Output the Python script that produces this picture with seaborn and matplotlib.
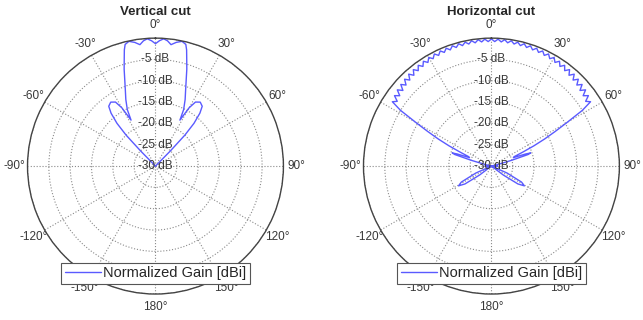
import matplotlib
import numpy as np
import pandas as pd
import seaborn as sns

matplotlib.use("Agg")
import matplotlib.pyplot as plt


# angle ticks (deg, clockwise from top) and labels shown round the rim
ANGLE_TICKS = [0, 30, 60, 90, 120, 150, 180, 210, 240, 270, 300, 330]
ANGLE_LABELS = ["0°", "30°", "60°", "90°", "120°", "150°", "180°",
                "-150°", "-120°", "-90°", "-60°", "-30°"]
RING_TICKS = [-30, -25, -20, -15, -10, -5, 0]
RING_LABELS = [-5, -10, -15, -20, -25, -30]

# vertical cut, normalized gain in dB (clipped at -30)
VERT_ANGLES = [
    -180, -45.5, -44.5, -43.5, -42, -40, -38, -35, -32, -30, -28, -26.5,
    -24, -21.5, -19.5, -17.9, -16.3, -15, -14, -12, -9.5, -7.3, -5.5, -3.7, -1.8,
    0,
    1.8, 3.7, 5.5, 7.3, 9.5, 12, 14, 15, 16.3, 17.9, 19.5, 21.5, 24,
    26.5, 28, 30, 32, 35, 38, 40, 42, 43.5, 44.5, 45.5, 180,
]
VERT_GAIN = [
    -30, -30, -25, -20, -16.5, -13.8, -12.2, -11.7, -12.3, -14.2, -17.8, -15.2,
    -12.9, -10.7, -8.4, -6.1, -3.9, -1.8, -0.6, -0.1, -0.6, -1.3, -0.5, -0.1, -0.6,
    -1.3,
    -0.6, -0.1, -0.5, -1.3, -0.6, -0.1, -0.6, -1.8, -3.9, -6.1, -8.4, -10.7, -12.9,
    -15.2, -17.8, -14.2, -12.3, -11.7, -12.2, -13.8, -16.5, -20, -25, -30, -30,
]

# horizontal cut, normalized gain in dB (clipped at -30)
HORIZ_ANGLES = [
    -180, -130, -127, -124, -121, -118, -114, -110, -95, -92, -89, -86,
    -78, -76, -74, -72.5, -71.5, -70.5, -69, -67.5, -66, -64.5, -63, -61.5, -60, -58.5,
    -57, -55.5, -54, -52.5, -51, -49.5, -48, -46.5, -45, -43.5, -42, -40.5,
    -39, -37.5, -36, -34.5, -33, -31.5, -30, -28.5, -27, -25.5, -24, -22.5,
    -21, -19.5, -18, -16.5, -15, -13.5, -12, -10.5, -9, -7.5, -6, -4.5, -3, -1.5,
    0,
    1.5, 3, 4.5, 6, 7.5, 9, 10.5, 12, 13.5, 15, 16.5, 18, 19.5, 21,
    22.5, 24, 25.5, 27, 28.5, 30, 31.5, 33, 34.5, 36, 37.5, 39,
    40.5, 42, 43.5, 45, 46.5, 48, 49.5, 51, 52.5, 54, 55.5, 57,
    58.5, 60, 61.5, 63, 64.5, 66, 67.5, 69, 70.5, 71.5, 72.5, 74, 76, 78,
    86, 89, 92, 95, 110, 114, 118, 121, 124, 127, 130, 180,
]
HORIZ_GAIN = [
    -30, -30, -26.5, -22.5, -21, -22, -26, -30, -30, -28.5, -28.5, -30,
    -30, -28.5, -25, -21, -20.3, -21.5, -24.5, -24.2, -22, -19, -16, -13, -9.5, -5,
    -2.3, -3.2, -1.9, -2.9, -1.6, -2.7, -1.4, -2.4, -1.2, -2.2, -1.0, -2.0,
    -0.9, -1.8, -0.8, -1.65, -0.7, -1.5, -0.6, -1.35, -0.5, -1.25, -0.45, -1.15,
    -0.4, -1.1, -0.35, -1.0, -0.3, -0.95, -0.3, -0.9, -0.25, -0.85, -0.2, -0.8, -0.2, -0.8,
    -0.2,
    -0.8, -0.2, -0.8, -0.2, -0.85, -0.25, -0.9, -0.3, -0.95, -0.3, -1.0, -0.35, -1.1, -0.4,
    -1.15, -0.45, -1.25, -0.5, -1.35, -0.6, -1.5, -0.7, -1.65, -0.8, -1.8, -0.9,
    -2.0, -1.0, -2.2, -1.2, -2.4, -1.4, -2.7, -1.6, -2.9, -1.9, -3.2, -2.3,
    -5, -9.5, -13, -16, -19, -22, -24.2, -24.5, -21.5, -20.3, -21, -25, -28.5, -30,
    -30, -28.5, -28.5, -30, -30, -26, -22, -21, -22.5, -26.5, -30, -30,
]

LINE_COLOR = "#5a5aff"
TEXT_COLOR = "#383838"


def draw_cut(ax, angles, gains, title):
    df = pd.DataFrame({"theta": np.deg2rad(angles), "gain": gains})
    sns.lineplot(
        data=df, x="theta", y="gain", sort=False, estimator=None,
        color=LINE_COLOR, linewidth=1.0, label="Normalized Gain [dBi]", ax=ax,
    )
    ax.set_theta_zero_location("N")
    ax.set_theta_direction(-1)
    ax.set_xlim(0, 2 * np.pi)
    ax.set_ylim(-30, 0)
    ax.set_thetagrids(ANGLE_TICKS, ANGLE_LABELS, fontsize=8.5, color=TEXT_COLOR)
    ax.tick_params(axis="x", pad=-1)
    ax.set_yticks(RING_TICKS)
    ax.set_yticklabels([])
    for r in RING_LABELS:
        ax.text(0, r, f"{r} dB", ha="center", va="center", fontsize=8.5, color=TEXT_COLOR)
    ax.grid(True, linestyle=":", color="#8a8a8a", linewidth=0.8)
    ax.spines["polar"].set_color("#444444")
    ax.spines["polar"].set_linewidth(1.0)
    ax.set_xlabel("")
    ax.set_ylabel("")
    ax.set_title(title, fontsize=9.5, fontweight="bold", y=1.0, pad=16.5)
    leg = ax.legend(
        loc="lower center", bbox_to_anchor=(0.5, 0.04), borderaxespad=0,
        fontsize=10.5, fancybox=False, framealpha=1, edgecolor="#555555",
        handlelength=2.5, handletextpad=0.15, borderpad=0.25,
    )
    leg.get_frame().set_linewidth(0.8)
    leg.set_zorder(5)


def main():
    sns.set_style("white")
    plt.rcParams["font.family"] = ["Liberation Sans", "DejaVu Sans"]

    fig = plt.figure(figsize=(6.43, 3.2), dpi=100)
    ax1 = fig.add_axes([0.0428, 0.078, 0.398, 0.806], projection="polar")
    ax2 = fig.add_axes([0.5653, 0.078, 0.398, 0.806], projection="polar")

    draw_cut(ax1, VERT_ANGLES, VERT_GAIN, "Vertical cut")
    draw_cut(ax2, HORIZ_ANGLES, HORIZ_GAIN, "Horizontal cut")

    fig.savefig("out.png", dpi=100)
    plt.close(fig)


if __name__ == "__main__":
    main()
